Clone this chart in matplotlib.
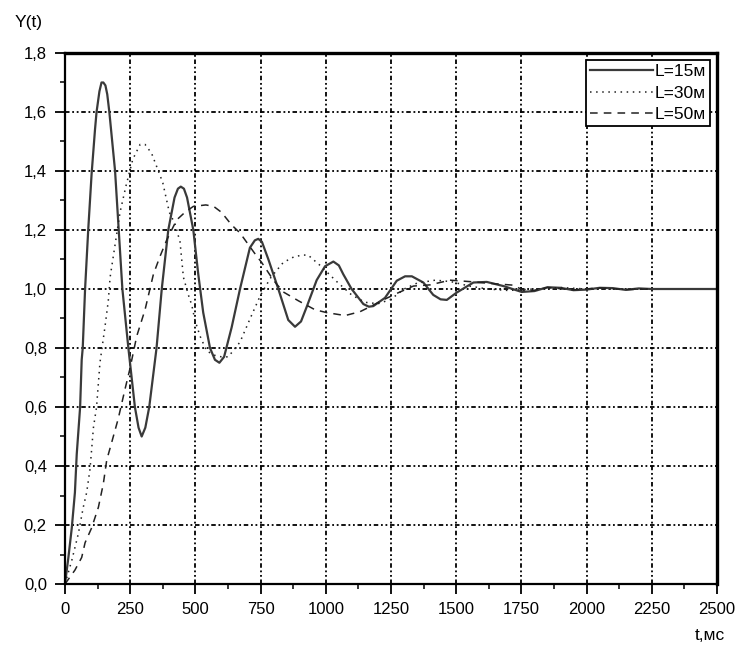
import numpy as np
import matplotlib
matplotlib.use('Agg')
import matplotlib.pyplot as plt
from matplotlib.ticker import MultipleLocator, FuncFormatter

plt.rcParams['font.family'] = ['Liberation Sans', 'DejaVu Sans']

# L = 15 m (solid)
t15 = [0, 13, 26, 38, 45, 58, 64, 68, 77, 89, 102, 115, 121, 132, 140, 147, 155, 162,
       170, 181, 192, 206, 220, 243, 268, 282, 294, 308, 323, 351, 371, 396, 420, 433,
       444, 456, 468, 492, 511, 530, 556, 575, 592, 610, 639, 671, 709, 728, 741, 755,
       780, 818, 856, 882, 905, 927, 965, 997, 1029, 1050, 1067, 1099, 1144, 1165, 1182,
       1227, 1272, 1304, 1330, 1374, 1412, 1440, 1464, 1502, 1566, 1617, 1681, 1751,
       1800, 1850, 1900, 1950, 2000, 2050, 2100, 2150, 2200, 2250, 2500]
y15 = [0.00, 0.09, 0.19, 0.31, 0.44, 0.60, 0.76, 0.80, 1.00, 1.20, 1.39, 1.54, 1.60, 1.67, 1.70, 1.70, 1.69, 1.66,
       1.60, 1.50, 1.40, 1.20, 1.00, 0.80, 0.60, 0.53, 0.50, 0.53, 0.60, 0.80, 1.00, 1.20, 1.31, 1.34,
       1.347, 1.34, 1.31, 1.20, 1.05, 0.92, 0.80, 0.76, 0.75, 0.77, 0.87, 1.00, 1.14, 1.165, 1.17, 1.16,
       1.10, 1.00, 0.895, 0.872, 0.89, 0.94, 1.03, 1.077, 1.093, 1.08, 1.05, 1.00, 0.949, 0.94, 0.942,
       0.97, 1.028, 1.043, 1.043, 1.022, 0.98, 0.965, 0.963, 0.988, 1.022, 1.024, 1.01, 0.99,
       0.993, 1.006, 1.004, 0.996, 0.998, 1.004, 1.003, 0.997, 1.002, 1.00, 1.00]

# L = 30 m (dotted)
t30 = [0, 26, 51, 70, 83, 96, 109, 121, 134, 153, 166, 173, 192, 211, 234, 260, 288, 307,
       332, 358, 375, 400, 422, 441, 454, 473, 486, 498, 518, 543, 575, 600, 626, 671, 710,
       750, 790, 837, 880, 914, 932, 978, 1042, 1099, 1150, 1200, 1250, 1300, 1350, 1420,
       1480, 1550, 1620, 1700, 1800, 1900, 2000, 2100, 2250]
y30 = [0.00, 0.08, 0.17, 0.26, 0.31, 0.39, 0.53, 0.60, 0.75, 0.87, 0.96, 1.04, 1.15, 1.26, 1.35, 1.44, 1.49, 1.49,
       1.46, 1.40, 1.36, 1.26, 1.22, 1.16, 1.04, 0.98, 0.946, 0.895, 0.84, 0.79, 0.775, 0.77, 0.77, 0.82, 0.90,
       0.98, 1.04, 1.09, 1.11, 1.115, 1.115, 1.08, 1.025, 0.98, 0.955, 0.95, 0.965, 1.00, 1.02, 1.03,
       1.025, 1.01, 1.00, 0.995, 1.00, 1.005, 1.00, 1.00, 1.00]

# L = 50 m (dashed)
t50 = [0, 38, 64, 77, 102, 128, 147, 160, 179, 204, 230, 249, 275, 307, 339, 364, 390, 428,
       460, 492, 540, 570, 600, 639, 671, 728, 754, 799, 837, 895, 958, 1003, 1074, 1131,
       1170, 1220, 1272, 1336, 1400, 1476, 1553, 1617, 1719, 1770, 1850, 1950, 2050, 2150, 2250]
y50 = [0.00, 0.047, 0.09, 0.14, 0.19, 0.26, 0.34, 0.42, 0.48, 0.56, 0.66, 0.73, 0.84, 0.93, 1.05, 1.11, 1.166, 1.234,
       1.26, 1.28, 1.285, 1.28, 1.26, 1.217, 1.19, 1.12, 1.09, 1.03, 0.99, 0.96, 0.93, 0.92, 0.91, 0.923,
       0.94, 0.963, 0.985, 1.01, 1.014, 1.03, 1.025, 1.02, 1.013, 0.99, 1.005, 0.997, 1.004, 0.998, 1.00]

labels = ['L=15м', 'L=30м', 'L=50м']

fig = plt.figure(figsize=(7.47, 6.50), dpi=100)
ax = fig.add_axes([65 / 747, 1 - 584 / 650, 652 / 747, 531 / 650])

ax.plot(t15, y15, color='#3a3a3a', lw=1.6, ls='-', label=labels[0])
ax.plot(t30, y30, color='#222222', lw=1.1, ls=(0, (1, 3)), label=labels[1])
ax.plot(t50, y50, color='#222222', lw=1.1, ls=(0, (5, 4)), label=labels[2])

ax.set_xlim(0, 2500)
ax.set_ylim(0, 1.8)
ax.xaxis.set_major_locator(MultipleLocator(250))
ax.xaxis.set_minor_locator(MultipleLocator(125))
ax.yaxis.set_major_locator(MultipleLocator(0.2))
ax.yaxis.set_minor_locator(MultipleLocator(0.1))
ax.yaxis.set_major_formatter(FuncFormatter(lambda v, p: f'{v:.1f}'.replace('.', ',')))

ax.grid(True, which='major', color='black', lw=1.3, ls=(0, (2.5, 1.5, 1, 1.5, 1, 1.5)))
ax.tick_params(which='major', direction='out', length=7, width=1.3, labelsize=12, colors='black', pad=6)
ax.tick_params(which='minor', direction='out', length=3.5, width=1.1)
for s in ['left', 'bottom']:
    ax.spines[s].set_linewidth(1.6)
for s in ['top', 'right']:
    ax.spines[s].set_linewidth(2.4)

leg = ax.legend(loc='upper right', fontsize=12.5, handlelength=3.6, handletextpad=0.1,
                borderpad=0.25, labelspacing=0.35, borderaxespad=0.4,
                fancybox=False, framealpha=1, edgecolor='black')
leg.get_frame().set_linewidth(1.3)

fig.text(15 / 747, 1 - 22 / 650, 'Y(t)', fontsize=12.5, ha='left', va='center')
fig.text(725 / 747, 1 - 636 / 650, 't,мс', fontsize=12.5, ha='right', va='center')

fig.savefig('out.png', dpi=100)
